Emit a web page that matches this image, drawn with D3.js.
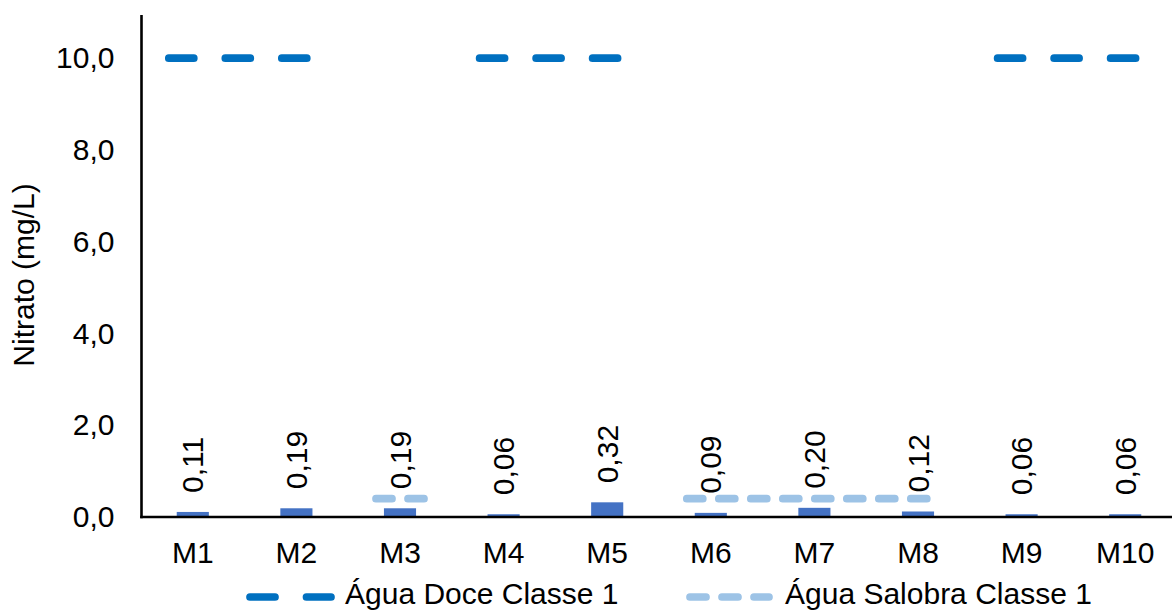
<!DOCTYPE html>
<html><head><meta charset="utf-8">
<script src="https://cdn.jsdelivr.net/npm/d3@7"></script>
<style>
body{margin:0;background:#fff}
text{font-family:"Liberation Sans",Arial,sans-serif;fill:#000}
</style>
</head><body>
<svg id="c" width="1172" height="611"></svg>
<script>
// ---- data ----
const categories = ["M1","M2","M3","M4","M5","M6","M7","M8","M9","M10"];
const nitrato = [0.11,0.19,0.19,0.06,0.32,0.09,0.20,0.12,0.06,0.06];
const aguaDoce = [10,10,null,10,10,null,null,null,10,10];
const aguaSalobra = [null,null,0.4,null,null,0.4,0.4,0.4,null,null];
const yTicks = [0,2,4,6,8,10];
const seriesNames = ["Água Doce Classe 1","Água Salobra Classe 1"];
const yTitle = "Nitrato (mg/L)";

// ---- layout ----
const svg = d3.select("#c");
const FS = 30;
const x = d3.scaleBand().domain(categories).range([141,1177]);
const y = d3.scaleLinear().domain([0,10.94]).range([517,15]);
const loc = d3.formatLocale({decimal:",",thousands:".",grouping:[3],currency:["R$",""]});
const f1 = loc.format(".1f"), f2 = loc.format(".2f");
const cx = d => x(d) + x.bandwidth()/2;

const styles = [
  {color:"#0070C0", width:7.7, dash:"25 31.5"},
  {color:"#9DC3E6", width:7.7, dash:"16 16"}
];

// bars
const bw = x.bandwidth()*0.31;
svg.append("g").selectAll("rect").data(categories).join("rect")
  .attr("x", d => cx(d)-bw/2)
  .attr("y", (d,i) => y(nitrato[i]))
  .attr("width", bw)
  .attr("height", (d,i) => y(0)-y(nitrato[i]))
  .attr("fill", "#4472C4");

// axes lines
svg.append("line").attr("x1",141.5).attr("x2",141.5).attr("y1",y.range()[1]).attr("y2",y(0)+1.2)
  .attr("stroke","#000").attr("stroke-width",2.6);
svg.append("line").attr("x1",140.2).attr("x2",1172).attr("y1",y(0)).attr("y2",y(0))
  .attr("stroke","#000").attr("stroke-width",2.6);

// threshold lines
function runs(vals){
  const r=[]; let cur=null;
  vals.forEach((v,i)=>{ if(v==null){cur=null;} else { if(!cur){cur=[];r.push(cur);} cur.push(i);} });
  return r;
}
const ext = 24;
const line = d3.line().x(p=>p[0]).y(p=>y(p[1]));
function drawThreshold(vals, st){
  runs(vals).forEach(r=>{
    const first=r[0], last=r[r.length-1];
    const pts = [[cx(categories[first])-ext, vals[first]]]
      .concat(r.map(i=>[cx(categories[i]), vals[i]]))
      .concat([[cx(categories[last])+ext, vals[last]]]);
    svg.append("path").attr("d", line(pts)).attr("fill","none")
      .attr("stroke", st.color).attr("stroke-width", st.width)
      .attr("stroke-dasharray", st.dash).attr("stroke-linecap","round");
  });
}
drawThreshold(aguaSalobra, styles[1]);
drawThreshold(aguaDoce, styles[0]);

// data labels
svg.append("g").selectAll("text").data(categories).join("text")
  .attr("transform", (d,i)=>`translate(${cx(d)},${y(nitrato[i])-19}) rotate(-90)`)
  .attr("dy","0.35em")
  .style("font-size", FS+"px")
  .text((d,i)=>f2(nitrato[i]));

// y axis labels
const ya = svg.append("g").attr("transform","translate(141.5,0)")
  .call(d3.axisLeft(y).tickValues(yTicks).tickFormat(f1).tickSize(0).tickPadding(27));
ya.select(".domain").remove();
ya.selectAll("text").style("font-size",FS+"px").attr("font-family",null).style("fill","#000");

// x axis labels
const xa = svg.append("g").attr("transform",`translate(0,${y(0)})`)
  .call(d3.axisBottom(x).tickSize(0).tickPadding(24.5));
xa.select(".domain").remove();
xa.selectAll("text").style("font-size",FS+"px").attr("font-family",null).style("fill","#000");

// y title
svg.append("text").attr("transform","translate(34,275) rotate(-90)")
  .attr("text-anchor","middle").style("font-size",FS+"px").text(yTitle);

// legend
const legend = [
  {name:seriesNames[0], st:styles[0], sx:250, len:81, tx:345},
  {name:seriesNames[1], st:styles[1], sx:690, len:79, tx:785}
];
const ly = 597;
legend.forEach(l=>{
  svg.append("path").attr("d", d3.line()([[l.sx,ly],[l.sx+l.len,ly]]))
    .attr("stroke", l.st.color).attr("stroke-width", l.st.width)
    .attr("stroke-dasharray", l.st.dash).attr("stroke-linecap","round").attr("fill","none");
  svg.append("text").attr("x", l.tx).attr("y", 604).style("font-size",FS+"px").text(l.name);
});
</script>
</body></html>
